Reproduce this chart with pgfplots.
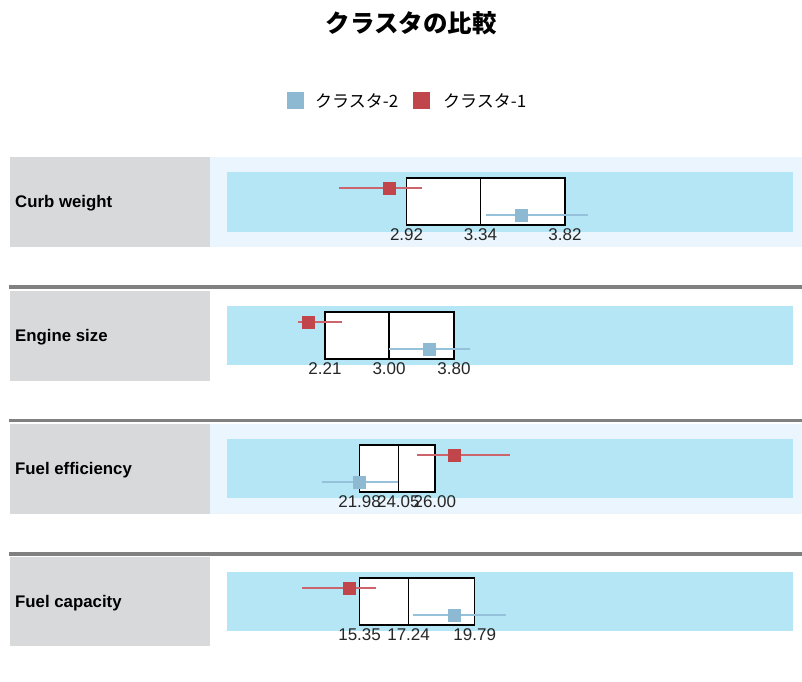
\documentclass[border=0pt]{standalone}
\usepackage{pgfplots}
\pgfplotsset{compat=1.18}
\usepackage{fontspec}
\setmainfont{Liberation Sans}
\newfontfamily\cjk{Noto Sans CJK JP}

\definecolor{labgrey}{RGB}{216,217,219}
\definecolor{outerblue}{RGB}{234,245,253}
\definecolor{band}{RGB}{181,230,245}
\definecolor{sep}{RGB}{128,128,128}
\definecolor{cone}{RGB}{192,70,75}
\definecolor{conel}{RGB}{204,100,108}
\definecolor{ctwo}{RGB}{141,185,211}
\definecolor{ctwol}{RGB}{150,193,218}

\pgfplotsset{
  panel/.style={hide axis, clip=false, scale only axis, width=592pt, height=90pt,
    ymin=0, ymax=90, y dir=reverse, anchor=north west},
  boxq/.style={draw=black, fill=white, line width=1.6pt},
  med/.style={black, line width=1.2pt},
  err1/.style={conel, line width=2pt},
  err2/.style={ctwol, line width=2pt},
  m1/.style={only marks, mark=square*, mark size=6pt, mark options={draw=cone, fill=cone}},
  m2/.style={only marks, mark=square*, mark size=6pt, mark options={draw=ctwo, fill=ctwo}},
}
\tikzset{tick/.style={font=\fontsize{17}{20}\selectfont, inner sep=0pt, text=black!85},
  lab/.style={font=\fontsize{16.8}{20}\selectfont\bfseries, anchor=west, inner sep=0pt}}

\begin{document}
\begin{tikzpicture}
\path[use as bounding box] (0,0) rectangle (802pt,681pt);

% frame: title, legend, label cells, bands
\begin{axis}[at={(0pt,0pt)}, anchor=south west, scale only axis, width=802pt, height=681pt,
  xmin=0, xmax=802, ymin=0, ymax=681, y dir=reverse, hide axis, clip=false]
\node[font=\cjk\fontsize{24.5}{28}\selectfont\bfseries] at (axis cs:411,23) {クラスタの比較};

\fill[ctwo] (axis cs:287,92) rectangle (axis cs:304,109);
\node[font=\cjk\fontsize{17}{20}\selectfont, anchor=west, inner sep=0pt] at (axis cs:315,100.5) {クラスタ-2};
\fill[cone] (axis cs:413,92) rectangle (axis cs:430,109);
\node[font=\cjk\fontsize{17}{20}\selectfont, anchor=west, inner sep=0pt] at (axis cs:443,100.5) {クラスタ-1};

% Curb weight
\fill[labgrey] (axis cs:10,157) rectangle (axis cs:210,247);
\fill[outerblue] (axis cs:210,157) rectangle (axis cs:802,247);
\fill[band] (axis cs:227,171.5) rectangle (axis cs:793,231.5);
\node[lab] at (axis cs:15,203) {Curb weight};
\draw[sep, line width=3.5pt] (axis cs:9,287) -- (axis cs:802,287);
% Engine size
\fill[labgrey] (axis cs:10,291) rectangle (axis cs:210,381);
\fill[band] (axis cs:227,305.5) rectangle (axis cs:793,365);
\node[lab] at (axis cs:15,337) {Engine size};
\draw[sep, line width=3.5pt] (axis cs:9,420.5) -- (axis cs:802,420.5);
% Fuel efficiency
\fill[labgrey] (axis cs:10,424) rectangle (axis cs:210,514);
\fill[outerblue] (axis cs:210,424) rectangle (axis cs:802,514);
\fill[band] (axis cs:227,438.5) rectangle (axis cs:793,498);
\node[lab] at (axis cs:15,470) {Fuel efficiency};
\draw[sep, line width=3.5pt] (axis cs:9,554) -- (axis cs:802,554);
% Fuel capacity
\fill[labgrey] (axis cs:10,557) rectangle (axis cs:210,646);
\fill[band] (axis cs:227,571.5) rectangle (axis cs:793,631);
\node[lab] at (axis cs:15,603) {Fuel capacity};
\end{axis}

% Curb weight
\begin{axis}[panel, at={(210pt,524pt)}, xmin=1.803, xmax=5.167]
\addplot[boxq] coordinates {(2.92,21)(3.82,21)(3.82,68)(2.92,68)} -- cycle;
\addplot[med] coordinates {(3.34,21)(3.34,68)};
\addplot[err1] coordinates {(2.536,31)(3.007,31)};
\addplot[m1] coordinates {(2.82,31)};
\addplot[err2] coordinates {(3.371,58)(3.951,58)};
\addplot[m2] coordinates {(3.57,58)};
\node[tick] at (axis cs:2.92,78) {2.92};
\node[tick] at (axis cs:3.34,78) {3.34};
\node[tick] at (axis cs:3.82,78) {3.82};
\end{axis}

% Engine size
\begin{axis}[panel, at={(210pt,390pt)}, xmin=0.793, xmax=8.089]
\addplot[boxq] coordinates {(2.21,21)(3.80,21)(3.80,68)(2.21,68)} -- cycle;
\addplot[med] coordinates {(3.00,21)(3.00,68)};
\addplot[err1] coordinates {(1.877,31)(2.42,31)};
\addplot[m1] coordinates {(2.00,31)};
\addplot[err2] coordinates {(2.999,58)(4.00,58)};
\addplot[m2] coordinates {(3.492,58)};
\node[tick] at (axis cs:2.21,78) {2.21};
\node[tick] at (axis cs:3.00,78) {3.00};
\node[tick] at (axis cs:3.80,78) {3.80};
\end{axis}

% Fuel efficiency
\begin{axis}[panel, at={(210pt,257pt)}, xmin=13.984, xmax=45.625]
\addplot[boxq] coordinates {(21.98,21)(26.00,21)(26.00,68)(21.98,68)} -- cycle;
\addplot[med] coordinates {(24.05,21)(24.05,68)};
\addplot[err1] coordinates {(25.05,31)(30.04,31)};
\addplot[m1] coordinates {(27.03,31)};
\addplot[err2] coordinates {(19.97,58)(24.03,58)};
\addplot[m2] coordinates {(21.98,58)};
\node[tick] at (axis cs:21.98,78) {21.98};
\node[tick] at (axis cs:24.05,78) {24.05};
\node[tick] at (axis cs:26.00,78) {26.00};
\end{axis}

% Fuel capacity
\begin{axis}[panel, at={(210pt,124pt)}, xmin=9.578, xmax=32.418]
\addplot[boxq] coordinates {(15.35,21)(19.79,21)(19.79,68)(15.35,68)} -- cycle;
\addplot[med] coordinates {(17.24,21)(17.24,68)};
\addplot[err1] coordinates {(13.13,31)(16.00,31)};
\addplot[m1] coordinates {(14.96,31)};
\addplot[err2] coordinates {(17.41,58)(21.00,58)};
\addplot[m2] coordinates {(18.98,58)};
\node[tick] at (axis cs:15.35,78) {15.35};
\node[tick] at (axis cs:17.24,78) {17.24};
\node[tick] at (axis cs:19.79,78) {19.79};
\end{axis}
\end{tikzpicture}
\end{document}
